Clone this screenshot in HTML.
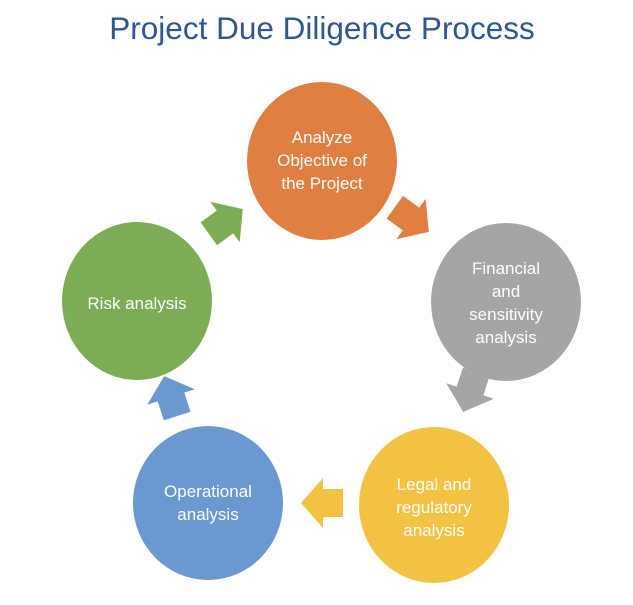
<!DOCTYPE html>
<html><head><meta charset="utf-8"><style>
html,body{margin:0;padding:0;background:#fff;}
body{width:633px;height:600px;overflow:hidden;}
text{font-family:"Liberation Sans",sans-serif;}
</style></head><body>
<svg width="633" height="600" viewBox="0 0 633 600" xmlns="http://www.w3.org/2000/svg">
<text x="322" y="39" text-anchor="middle" font-size="31.5" fill="#2f5597">Project Due Diligence Process</text>
<defs><polygon id="ar" points="-20,-14 0,-14 0,-25 22,0 0,25 0,14 -20,14"/></defs>
<ellipse cx="322" cy="161" rx="75" ry="79" fill="#e07f42"/>
<ellipse cx="506" cy="302" rx="75" ry="79" fill="#a5a5a5"/>
<ellipse cx="434" cy="505" rx="75" ry="78" fill="#f4c242"/>
<ellipse cx="208" cy="503" rx="75" ry="77" fill="#6a98d0"/>
<ellipse cx="137" cy="301" rx="75" ry="79" fill="#7dac56"/>
<use href="#ar" fill="#e07f42" transform="translate(411,219) rotate(36)"/>
<use href="#ar" fill="#a5a5a5" transform="translate(470,391) rotate(108)"/>
<use href="#ar" fill="#f4c242" transform="translate(323,503) rotate(180)"/>
<use href="#ar" fill="#6a98d0" transform="translate(171,397) rotate(-108)"/>
<use href="#ar" fill="#7dac56" transform="translate(225,222) rotate(-36)"/>
<g fill="#fff" font-size="17" text-anchor="middle">
<text x="322" y="143">Analyze</text><text x="322" y="166">Objective of</text><text x="322" y="189">the Project</text>
<text x="506" y="274">Financial</text><text x="506" y="297">and</text><text x="506" y="320">sensitivity</text><text x="506" y="343">analysis</text>
<text x="434" y="490">Legal and</text><text x="434" y="513">regulatory</text><text x="434" y="536">analysis</text>
<text x="208" y="497">Operational</text><text x="208" y="520">analysis</text>
<text x="137" y="309">Risk analysis</text>
</g>
</svg>
</body></html>
